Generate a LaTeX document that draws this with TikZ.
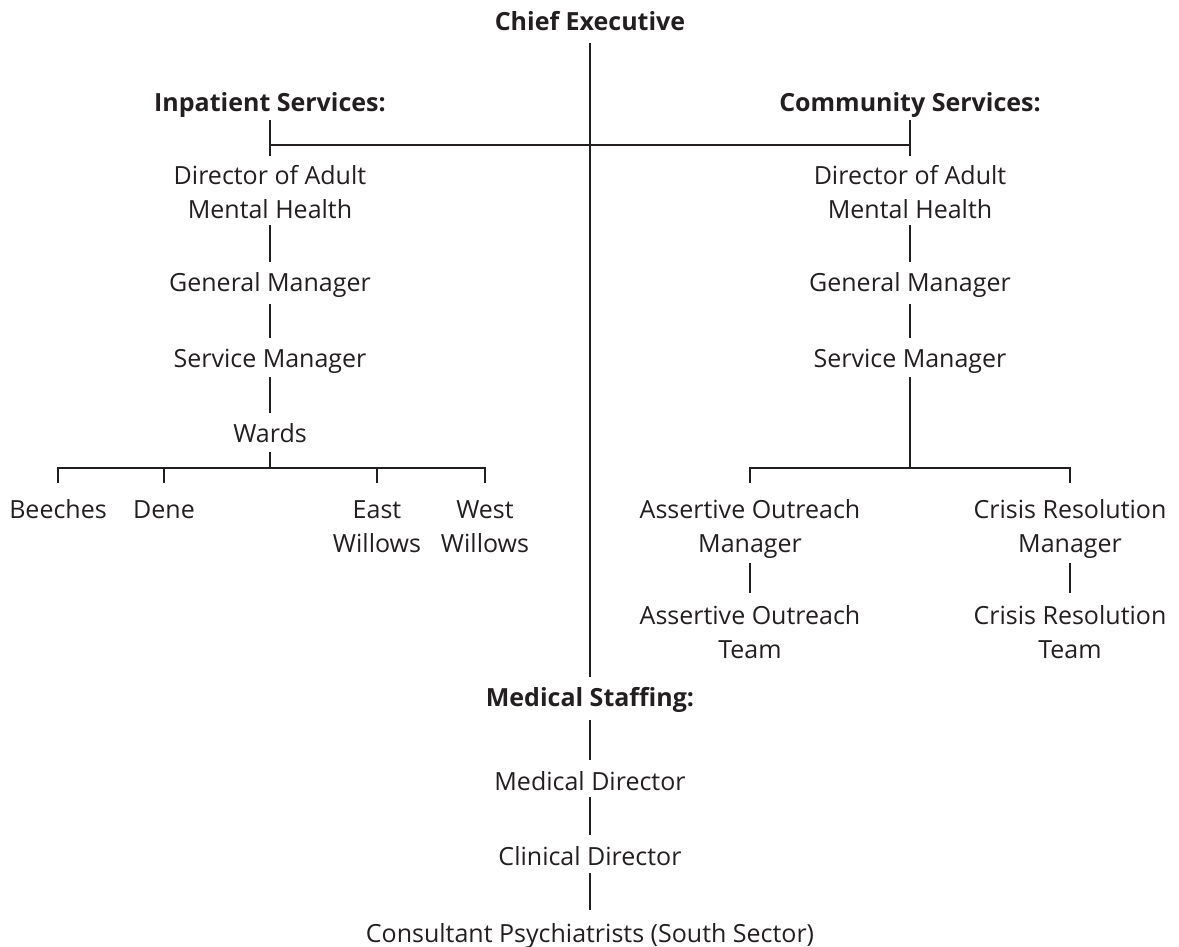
\documentclass[tikz,border=0pt]{standalone}
\usepackage{fontspec}
\setmainfont{Open Sans}
\definecolor{ink}{HTML}{231F20}
\begin{document}
\begin{tikzpicture}[x=1pt,y=-1pt,
  every node/.style={text=ink,font=\fontsize{25}{34}\selectfont,align=center,inner sep=0pt},
  single/.style={anchor=base},
  multi/.style={anchor=north},
  head/.style={anchor=base,font=\fontsize{25}{34}\selectfont\bfseries},
  conn/.style={draw=ink,line width=1.2pt}]
\useasboundingbox (0,0) rectangle (1179,947);
% headings
\node[head] (ce) at (590,31) {Chief Executive};
\node[head] (ins) at (270,112) {Inpatient Services:};
\node[head] (cs) at (910,112) {Community Services:};
\node[head] (ms) at (590,706) {Medical Staffing:};
% inpatient
\node[multi] (ld) at (270,165) {Director of Adult\\Mental Health};
\node[single] (lg) at (270,291) {General Manager};
\node[single] (ls) at (270,367) {Service Manager};
\node[single] (lw) at (270,442) {Wards};
\node[single] (wb) at (58,518) {Beeches};
\node[single] (wd) at (164,518) {Dene};
\node[multi] (we) at (377,500) {East\\Willows};
\node[multi] (ww) at (485,500) {West\\Willows};
% community
\node[multi] (rd) at (910,165) {Director of Adult\\Mental Health};
\node[single] (rg) at (910,291) {General Manager};
\node[single] (rs) at (910,367) {Service Manager};
\node[multi] (am) at (750,499) {Assertive Outreach\\Manager};
\node[multi] (at) at (750,605) {Assertive Outreach\\Team};
\node[multi] (cm) at (1070,499) {Crisis Resolution\\Manager};
\node[multi] (ct) at (1070,605) {Crisis Resolution\\Team};
% medical
\node[single] (md) at (590,790) {Medical Director};
\node[single] (cd) at (590,865) {Clinical Director};
\node[single] (cp) at (590,942) {Consultant Psychiatrists (South Sector)};
% junctions
\coordinate (top) at (590,145);
\coordinate (lj) at (270,468);
\coordinate (rj) at (910,468);
% connectors
\draw[conn] ([yshift=-12pt]ce.base) -- ([yshift=29pt]ms.base);
\draw[conn] ([yshift=-8pt]ins.base) -- ([yshift=9pt]ld.north);
\draw[conn] ([yshift=-8pt]cs.base) -- ([yshift=9pt]rd.north);
\draw[conn] (ins.base |- top) -- (cs.base |- top);
% inpatient chain
\draw[conn] ([yshift=-6pt]ld.south) -- ([yshift=29pt]lg.base);
\draw[conn] ([yshift=-13pt]lg.base) -- ([yshift=29pt]ls.base);
\draw[conn] ([yshift=-10pt]ls.base) -- ([yshift=29pt]lw.base);
\draw[conn] ([yshift=-10pt]lw.base) -- (lj);
\draw[conn] ([yshift=35pt]wb.base) -- (wb.base |- lj) -- (ww.north |- lj) -- ([yshift=17pt]ww.north);
\draw[conn] ([yshift=35pt]wd.base) -- (wd.base |- lj);
\draw[conn] ([yshift=17pt]we.north) -- (we.north |- lj);
% community chain
\draw[conn] ([yshift=-6pt]rd.south) -- ([yshift=29pt]rg.base);
\draw[conn] ([yshift=-13pt]rg.base) -- ([yshift=29pt]rs.base);
\draw[conn] ([yshift=-10pt]rs.base) -- (rj);
\draw[conn] ([yshift=16pt]am.north) -- (am.north |- rj) -- (cm.north |- rj) -- ([yshift=16pt]cm.north);
\draw[conn] ([yshift=-5pt]am.south) -- ([yshift=12pt]at.north);
\draw[conn] ([yshift=-5pt]cm.south) -- ([yshift=12pt]ct.north);
% medical chain
\draw[conn] ([yshift=-14pt]ms.base) -- ([yshift=30pt]md.base);
\draw[conn] ([yshift=-7pt]md.base) -- ([yshift=30pt]cd.base);
\draw[conn] ([yshift=-8pt]cd.base) -- ([yshift=32pt]cp.base);
\end{tikzpicture}
\end{document}
